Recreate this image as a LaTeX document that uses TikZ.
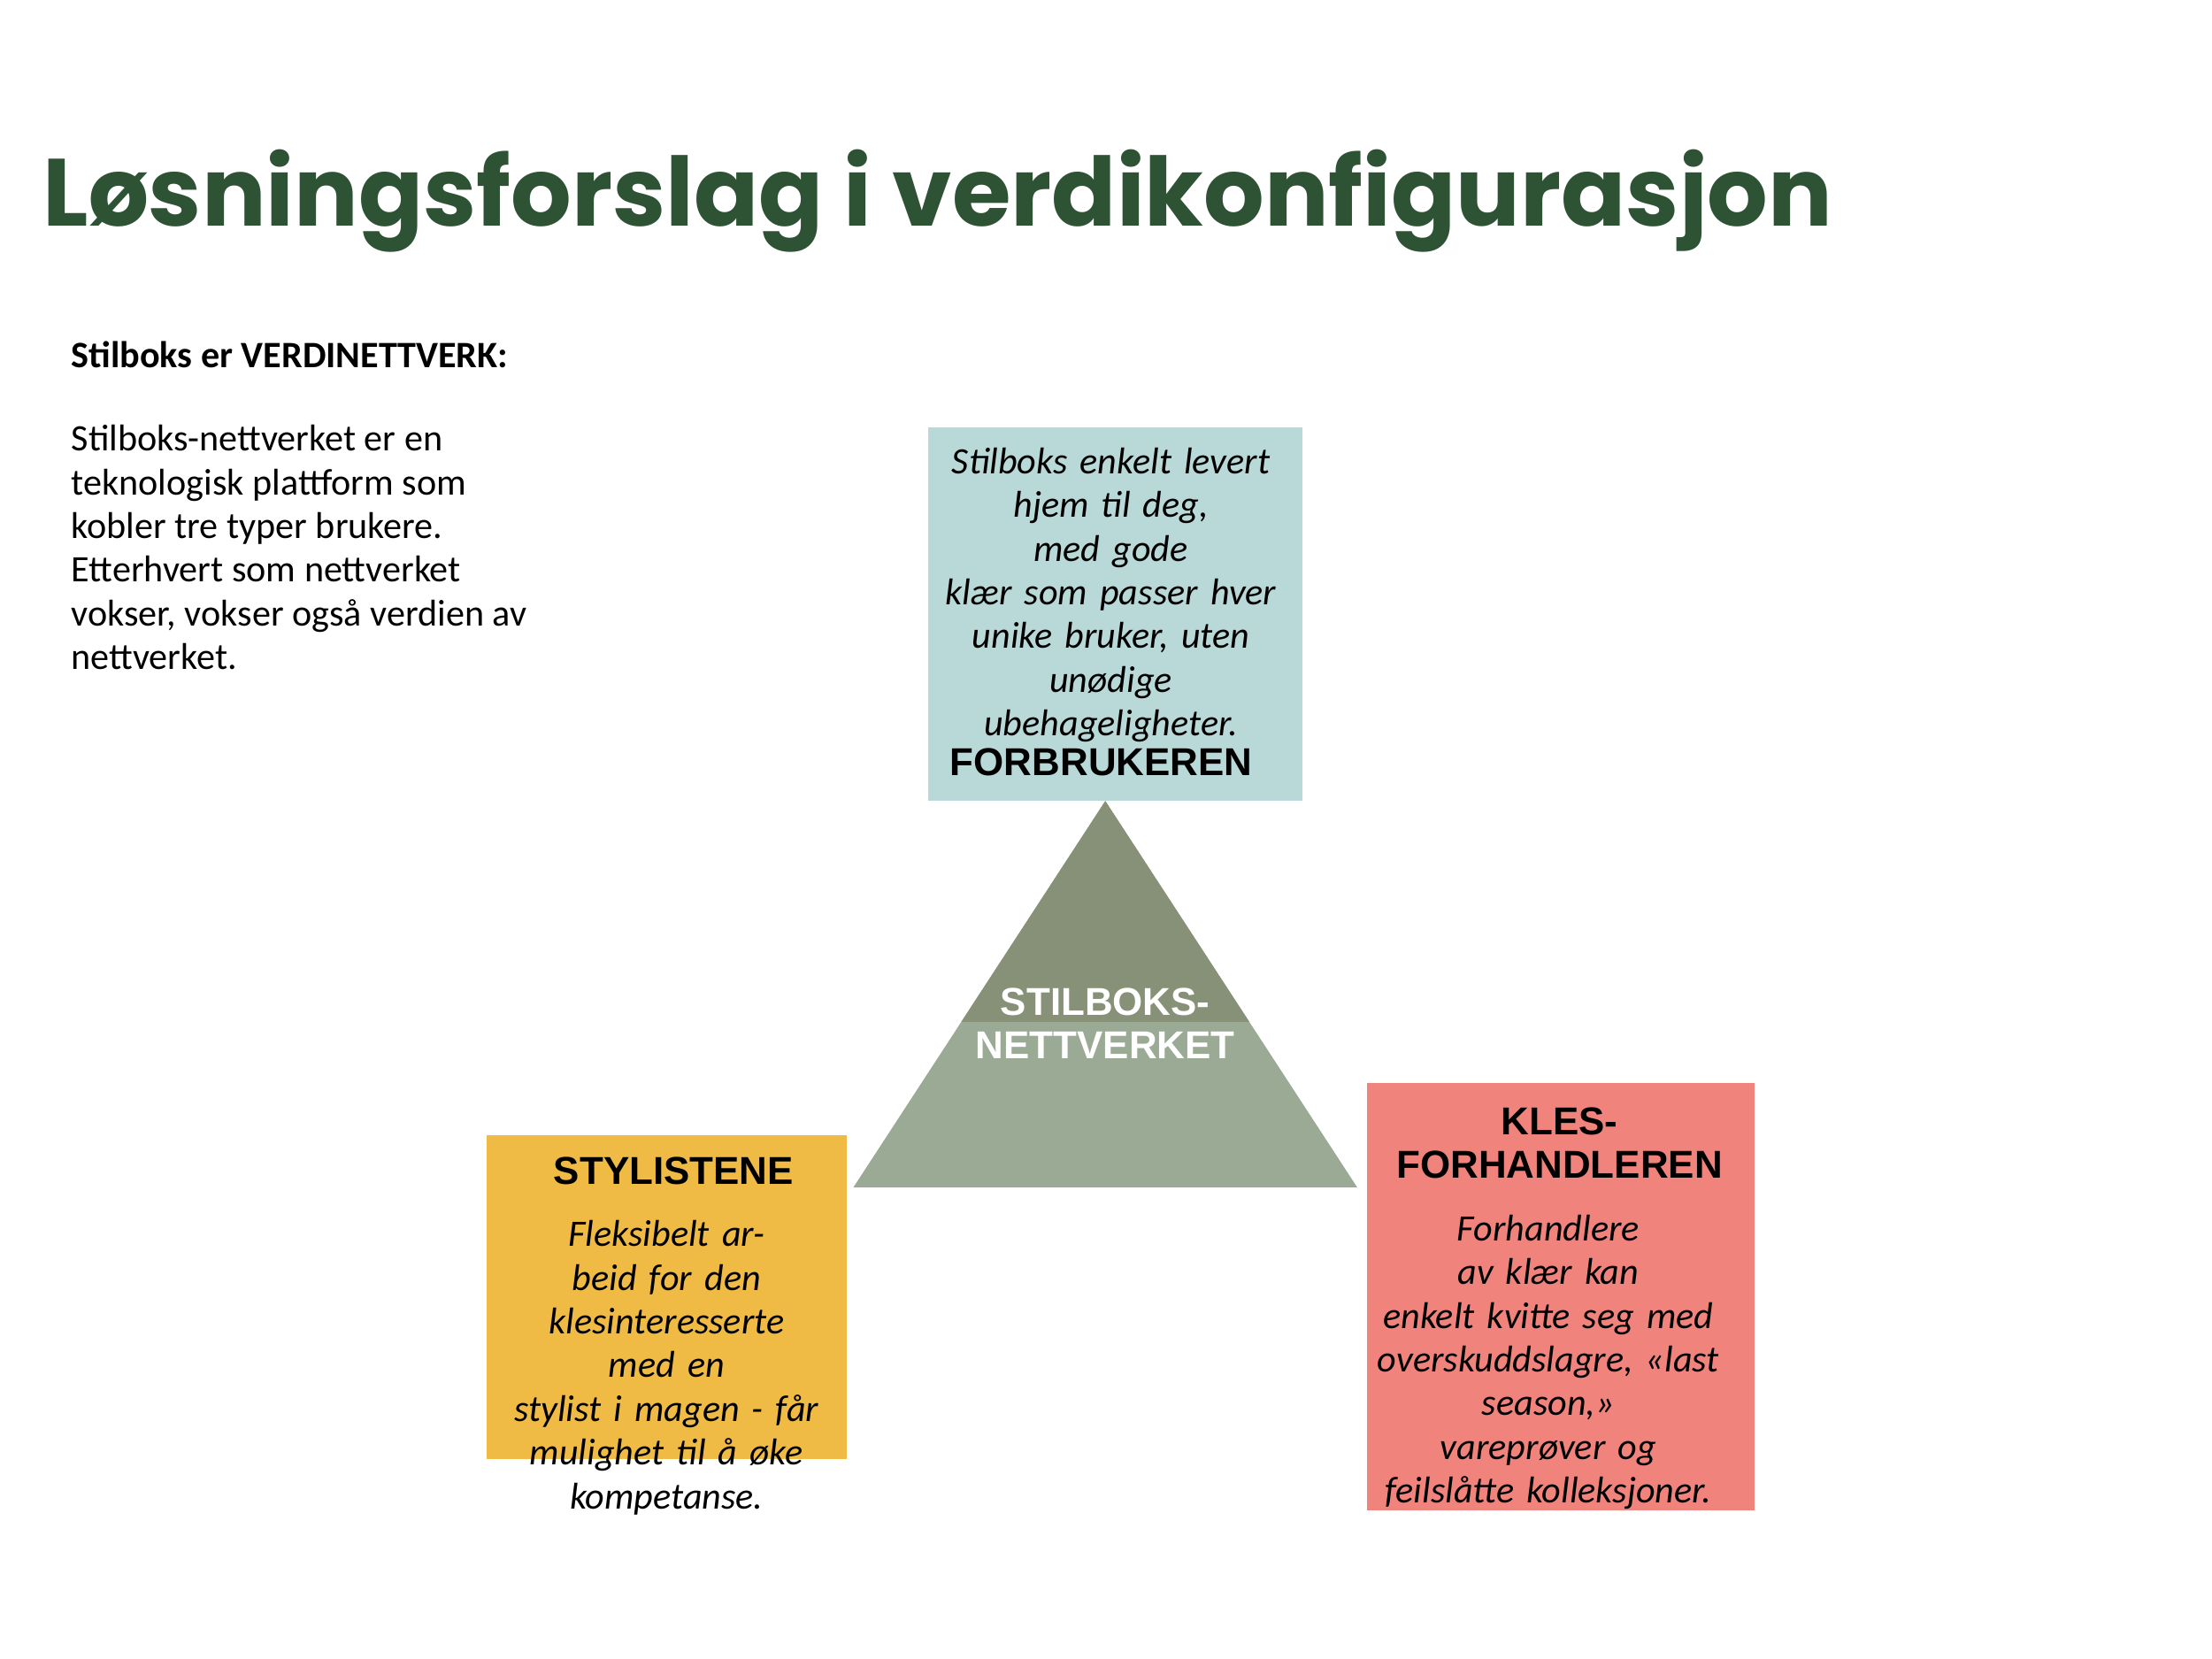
\documentclass[tikz,border=0pt]{standalone}
\usepackage{fontspec}
\setmainfont{Carlito}
\newfontfamily\arialf{Liberation Sans}
\newfontfamily\titlef{Poppins}
\usepackage{graphicx}
\definecolor{tgreen}{HTML}{2E5234}
\definecolor{bluebox}{HTML}{B9D8D8}
\definecolor{yelbox}{HTML}{F0BB45}
\definecolor{redbox}{HTML}{F0847D}
\definecolor{tridark}{HTML}{879178}
\definecolor{trilight}{HTML}{9AAA94}
\begin{document}
\begin{tikzpicture}[x=0.016cm,y=-0.016cm,
  body/.style={font=\fontsize{12}{14.06}\selectfont\itshape, align=center, text width=#1, inner sep=0},
  head/.style={font=\arialf\bfseries\fontsize{12.5}{14}\selectfont, align=center, inner sep=0}]
\useasboundingbox[fill=white] (0,0) rectangle (1563,1172);
\node[anchor=base west, inner sep=0, text=tgreen] (title) at (30,160)
  {\resizebox{20.24cm}{!}{\titlef\bfseries Løsningsforslag i verdikonfigurasjon}};
\node[anchor=base west, inner sep=0, font=\fontsize{12}{14.06}\selectfont\bfseries] (lh) at (50,260) {Stilboks er VERDINETTVERK:};
\node[anchor=north west, inner sep=0, align=left, font=\fontsize{12}{14.06}\selectfont] (lt) at (50,300)
  {Stilboks-nettverket er en\\teknologisk plattform som\\kobler tre typer brukere.\\Etterhvert som nettverket\\vokser, vokser også verdien av\\nettverket.};
% triangle
\fill[trilight] (781,566) -- (603,839) -- (959,839) -- cycle;
\begin{scope}
\clip (781,566) -- (603,839) -- (959,839) -- cycle;
\fill[tridark] (500,500) rectangle (1000,722);
\end{scope}
\node[head, text=white] (tri) at (781,723) {STILBOKS-\\NETTVERKET};
% blue
\fill[bluebox] (656,302) rectangle (920,566);
\node[body=4.0cm, anchor=north] (bt) at (785,316) {Stilboks enkelt levert\\hjem til deg, med gode\\klær som passer hver\\unike bruker, uten\\unødige\\ubehageligheter.};
\node[head, anchor=base west] (bh) at (671,548) {FORBRUKEREN};
% yellow
\fill[yelbox] (344,802) rectangle (598,1031);
\node[head, anchor=base] (yh) at (476,837) {STYLISTENE};
\node[body=3.9cm, anchor=north] (yt) at (471,862) {Fleksibelt arbeid for den\\klesinteresserte med en\\stylist i magen - får\\mulighet til å øke\\kompetanse.};
% red
\fill[redbox] (966,765) rectangle (1240,1067);
\node[head, anchor=north] (rh) at (1102,782) {KLES-\\FORHANDLEREN};
\node[body=4.2cm, anchor=north] (rt) at (1094,858) {Forhandlere av klær kan\\enkelt kvitte seg med\\overskuddslagre, «last\\season,»\ \ vareprøver og\\feilslåtte kolleksjoner.};
\end{tikzpicture}
\end{document}
